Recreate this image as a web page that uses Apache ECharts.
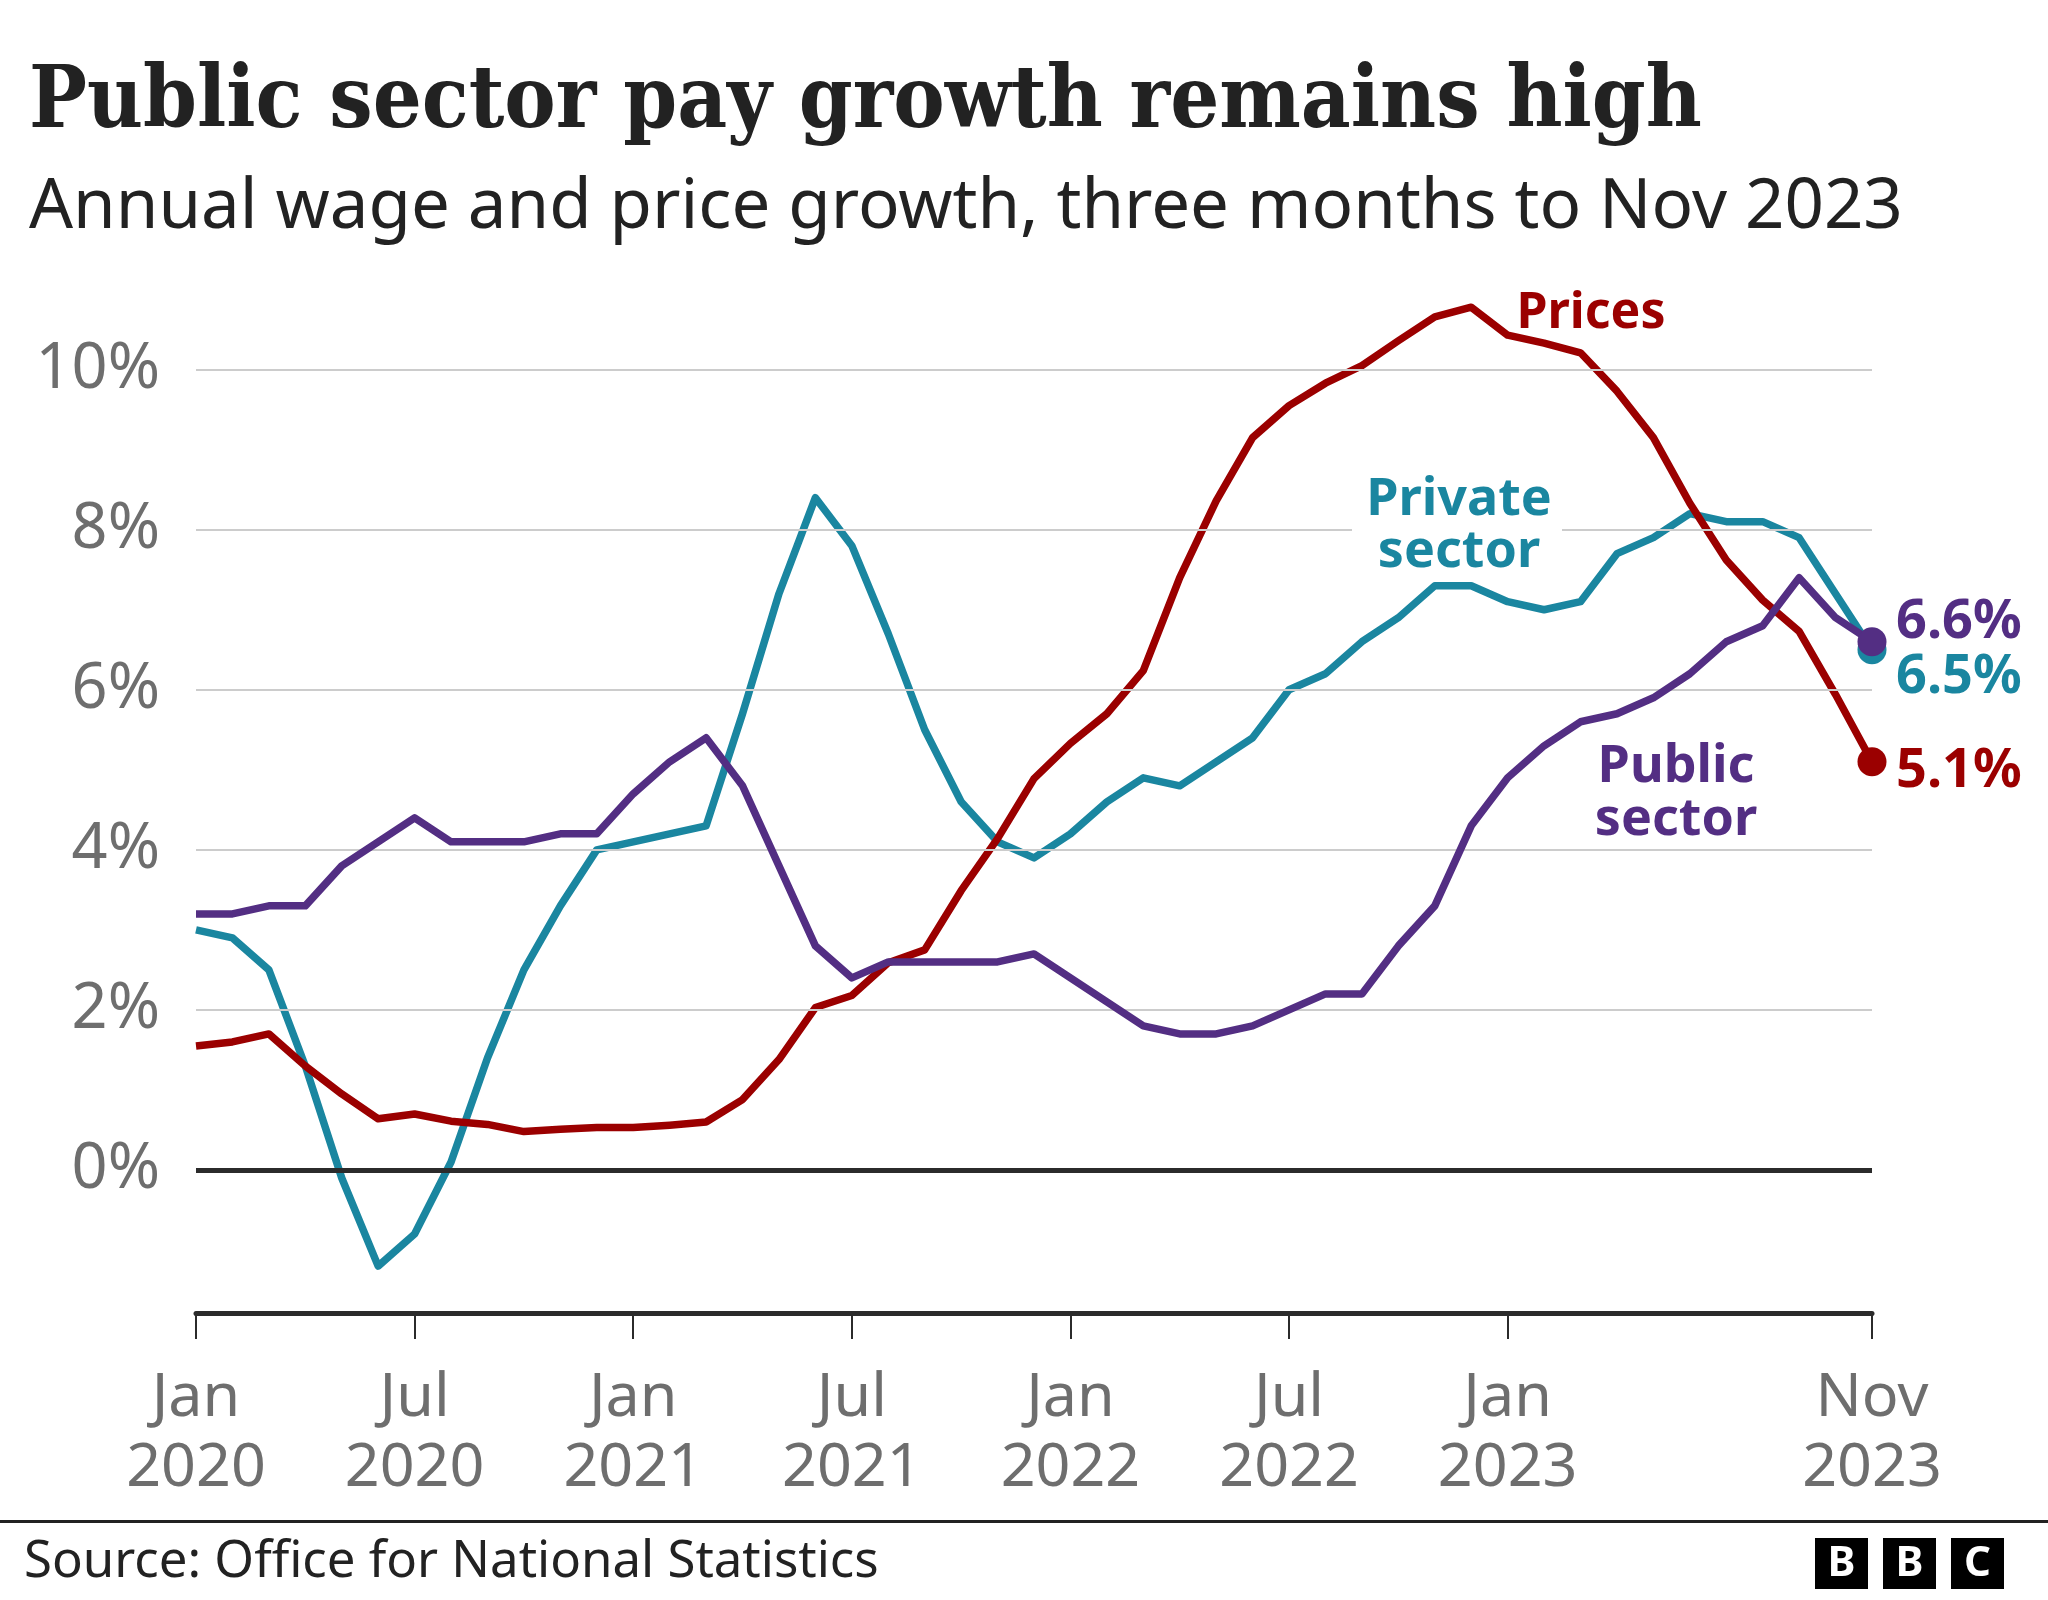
<!DOCTYPE html>
<html><head><meta charset="utf-8">
<script src="https://cdn.jsdelivr.net/npm/echarts@6/dist/echarts.min.js"></script>
<style>html,body{margin:0;padding:0;background:#fff}#c{width:2048px;height:1600px}</style>
</head><body><div id="c"></div>
<script>
// ---- data ----
const months = [
 'Jan 2020','Feb 2020','Mar 2020','Apr 2020','May 2020','Jun 2020','Jul 2020','Aug 2020','Sep 2020','Oct 2020','Nov 2020','Dec 2020',
 'Jan 2021','Feb 2021','Mar 2021','Apr 2021','May 2021','Jun 2021','Jul 2021','Aug 2021','Sep 2021','Oct 2021','Nov 2021','Dec 2021',
 'Jan 2022','Feb 2022','Mar 2022','Apr 2022','May 2022','Jun 2022','Jul 2022','Aug 2022','Sep 2022','Oct 2022','Nov 2022','Dec 2022',
 'Jan 2023','Feb 2023','Mar 2023','Apr 2023','May 2023','Jun 2023','Jul 2023','Aug 2023','Sep 2023','Oct 2023','Nov 2023'];
const tickMonths = ['Jan 2020','Jul 2020','Jan 2021','Jul 2021','Jan 2022','Jul 2022','Jan 2023','Nov 2023'];
const prices = [1.55,1.6,1.7,1.3,0.95,0.64,0.7,0.61,0.57,0.48,0.51,0.53,0.53,0.56,0.6,0.88,1.38,2.03,2.18,2.59,2.75,3.49,4.14,4.89,5.33,5.7,6.24,7.4,8.36,9.15,9.55,9.83,10.05,10.36,10.66,10.78,10.43,10.33,10.21,9.73,9.15,8.33,7.62,7.12,6.73,5.94,5.1];
const privateSector = [3.0,2.9,2.5,1.3,-0.1,-1.2,-0.8,0.1,1.4,2.5,3.3,4.0,4.1,4.2,4.3,5.7,7.2,8.4,7.8,6.7,5.5,4.6,4.1,3.9,4.2,4.6,4.9,4.8,5.1,5.4,6.0,6.2,6.6,6.9,7.3,7.3,7.1,7.0,7.1,7.7,7.9,8.2,8.1,8.1,7.9,7.2,6.5];
const publicSector = [3.2,3.2,3.3,3.3,3.8,4.1,4.4,4.1,4.1,4.1,4.2,4.2,4.7,5.1,5.4,4.8,3.8,2.8,2.4,2.6,2.6,2.6,2.6,2.7,2.4,2.1,1.8,1.7,1.7,1.8,2.0,2.2,2.2,2.8,3.3,4.3,4.9,5.3,5.6,5.7,5.9,6.2,6.6,6.8,7.4,6.9,6.6];
const gridValues = [2,4,6,8,10];
const zeroValue = 0;

// ---- text ----
const titleText = 'Public sector pay growth remains high';
const subtitleText = 'Annual wage and price growth, three months to Nov 2023';
const sourceText = 'Source: Office for National Statistics';

const RED = '#9b0000', TEAL = '#1a86a0', PURPLE = '#532e83', GREY = '#6e6e6e';
const SANS = '"Noto Sans", "DejaVu Sans", sans-serif';
const SERIF = '"DejaVu Serif Condensed", "DejaVu Serif", serif';

const mctx = document.createElement('canvas').getContext('2d');
function fit(text, weight, family, target, base) {
  mctx.font = weight + ' ' + base + 'px ' + family;
  return base * target / mctx.measureText(text).width;
}
const titleSize = fit(titleText, 'bold', SERIF, 1673, 84);
const subSize = fit(subtitleText, 'normal', SANS, 1874, 68);
const srcSize = fit(sourceText, 'normal', SANS, 855, 44);

const last = months.length - 1;
function lineSeries(name, data, color, dy, z) {
  return {
    name, type: 'line', data, z,
    symbol: 'circle',
    showSymbol: true,
    symbolSize: (v, p) => p.dataIndex === last ? 29 : 0,
    itemStyle: { color },
    lineStyle: { color, width: 7.5, join: 'round' },
    endLabel: {
      show: true, formatter: p => p.value + '%', color,
      fontFamily: SANS, fontWeight: 'bold', fontSize: 54,
      distance: 0, offset: [24, dy]
    },
    emphasis: { disabled: true }
  };
}

const chart = echarts.init(document.getElementById('c'), null, { renderer: 'canvas' });
chart.setOption({
  animation: false,
  backgroundColor: '#ffffff',
  grid: { left: 196, right: 176, top: 209.5, bottom: 269.9, containLabel: false },
  xAxis: {
    type: 'category', data: months, boundaryGap: false, offset: -17,
    axisLine: { show: true, onZero: false, lineStyle: { color: '#2b2b2b', width: 5 } },
    axisTick: { show: true, length: 26, interval: (i, v) => tickMonths.includes(v), lineStyle: { color: '#2b2b2b', width: 2 } },
    axisLabel: {
      interval: (i, v) => tickMonths.includes(v),
      formatter: v => v.replace(' ', '\n'),
      color: GREY, fontFamily: SANS, fontSize: 61, lineHeight: 70, margin: 51
    },
    splitLine: { show: false }
  },
  yAxis: {
    type: 'value', min: -2, max: 12, interval: 2,
    axisLine: { show: false }, axisTick: { show: false },
    splitLine: { show: false },
    axisLabel: {
      formatter: v => (v >= 0 && v <= 10) ? v + '%' : '',
      color: GREY, fontFamily: SANS, fontSize: 63, margin: 36
    }
  },
  series: [
    {
      type: 'line', data: [], z: 1, silent: true,
      markLine: {
        silent: true, symbol: 'none', label: { show: false },
        data: gridValues.map(v => ({ yAxis: v, lineStyle: { color: '#cccccc', width: 2, type: 'solid' } }))
          .concat([{ yAxis: zeroValue, lineStyle: { color: '#2b2b2b', width: 5, type: 'solid' } }])
      }
    },
    lineSeries('Private sector', privateSector, TEAL, 28, 3),
    lineSeries('Prices', prices, RED, 10, 4),
    lineSeries('Public sector', publicSector, PURPLE, -19, 5)
  ],
  graphic: [
    { type: 'text', left: 29, top: 62, style: { text: titleText, font: 'bold ' + titleSize + 'px ' + SERIF, fill: '#222222' } },
    { type: 'text', left: 29, top: 174, style: { text: subtitleText, font: 'normal ' + subSize + 'px ' + SANS, fill: '#222222' } },
    { type: 'rect', shape: { x: 1352, y: 472, width: 210, height: 105 }, style: { fill: '#ffffff' }, z: 50 },
    { type: 'text', z: 60, x: 1591, y: 314, style: { text: 'Prices', font: 'bold 50px ' + SANS, fill: RED, align: 'center', verticalAlign: 'middle' } },
    { type: 'text', z: 60, x: 1459, y: 500, style: { text: 'Private', font: 'bold 52px ' + SANS, fill: TEAL, align: 'center', verticalAlign: 'middle' } },
    { type: 'text', z: 60, x: 1459, y: 552, style: { text: 'sector', font: 'bold 52px ' + SANS, fill: TEAL, align: 'center', verticalAlign: 'middle' } },
    { type: 'text', z: 60, x: 1676, y: 767, style: { text: 'Public', font: 'bold 52px ' + SANS, fill: PURPLE, align: 'center', verticalAlign: 'middle' } },
    { type: 'text', z: 60, x: 1676, y: 820, style: { text: 'sector', font: 'bold 52px ' + SANS, fill: PURPLE, align: 'center', verticalAlign: 'middle' } },
    { type: 'rect', shape: { x: 0, y: 1520, width: 2048, height: 3 }, style: { fill: '#222222' } },
    { type: 'text', x: 24, y: 1562, style: { text: sourceText, font: 'normal ' + srcSize + 'px ' + SANS, fill: '#222222', verticalAlign: 'middle' } },
    { type: 'rect', shape: { x: 1815, y: 1538, width: 53, height: 51 }, style: { fill: '#000000' } },
    { type: 'rect', shape: { x: 1883, y: 1538, width: 53, height: 51 }, style: { fill: '#000000' } },
    { type: 'rect', shape: { x: 1951, y: 1538, width: 53, height: 51 }, style: { fill: '#000000' } },
    { type: 'text', x: 1841.5, y: 1564, style: { text: 'B', font: 'bold 42px ' + SANS, fill: '#ffffff', align: 'center', verticalAlign: 'middle' } },
    { type: 'text', x: 1909.5, y: 1564, style: { text: 'B', font: 'bold 42px ' + SANS, fill: '#ffffff', align: 'center', verticalAlign: 'middle' } },
    { type: 'text', x: 1977.5, y: 1564, style: { text: 'C', font: 'bold 42px ' + SANS, fill: '#ffffff', align: 'center', verticalAlign: 'middle' } }
  ]
});
</script>
</body></html>
